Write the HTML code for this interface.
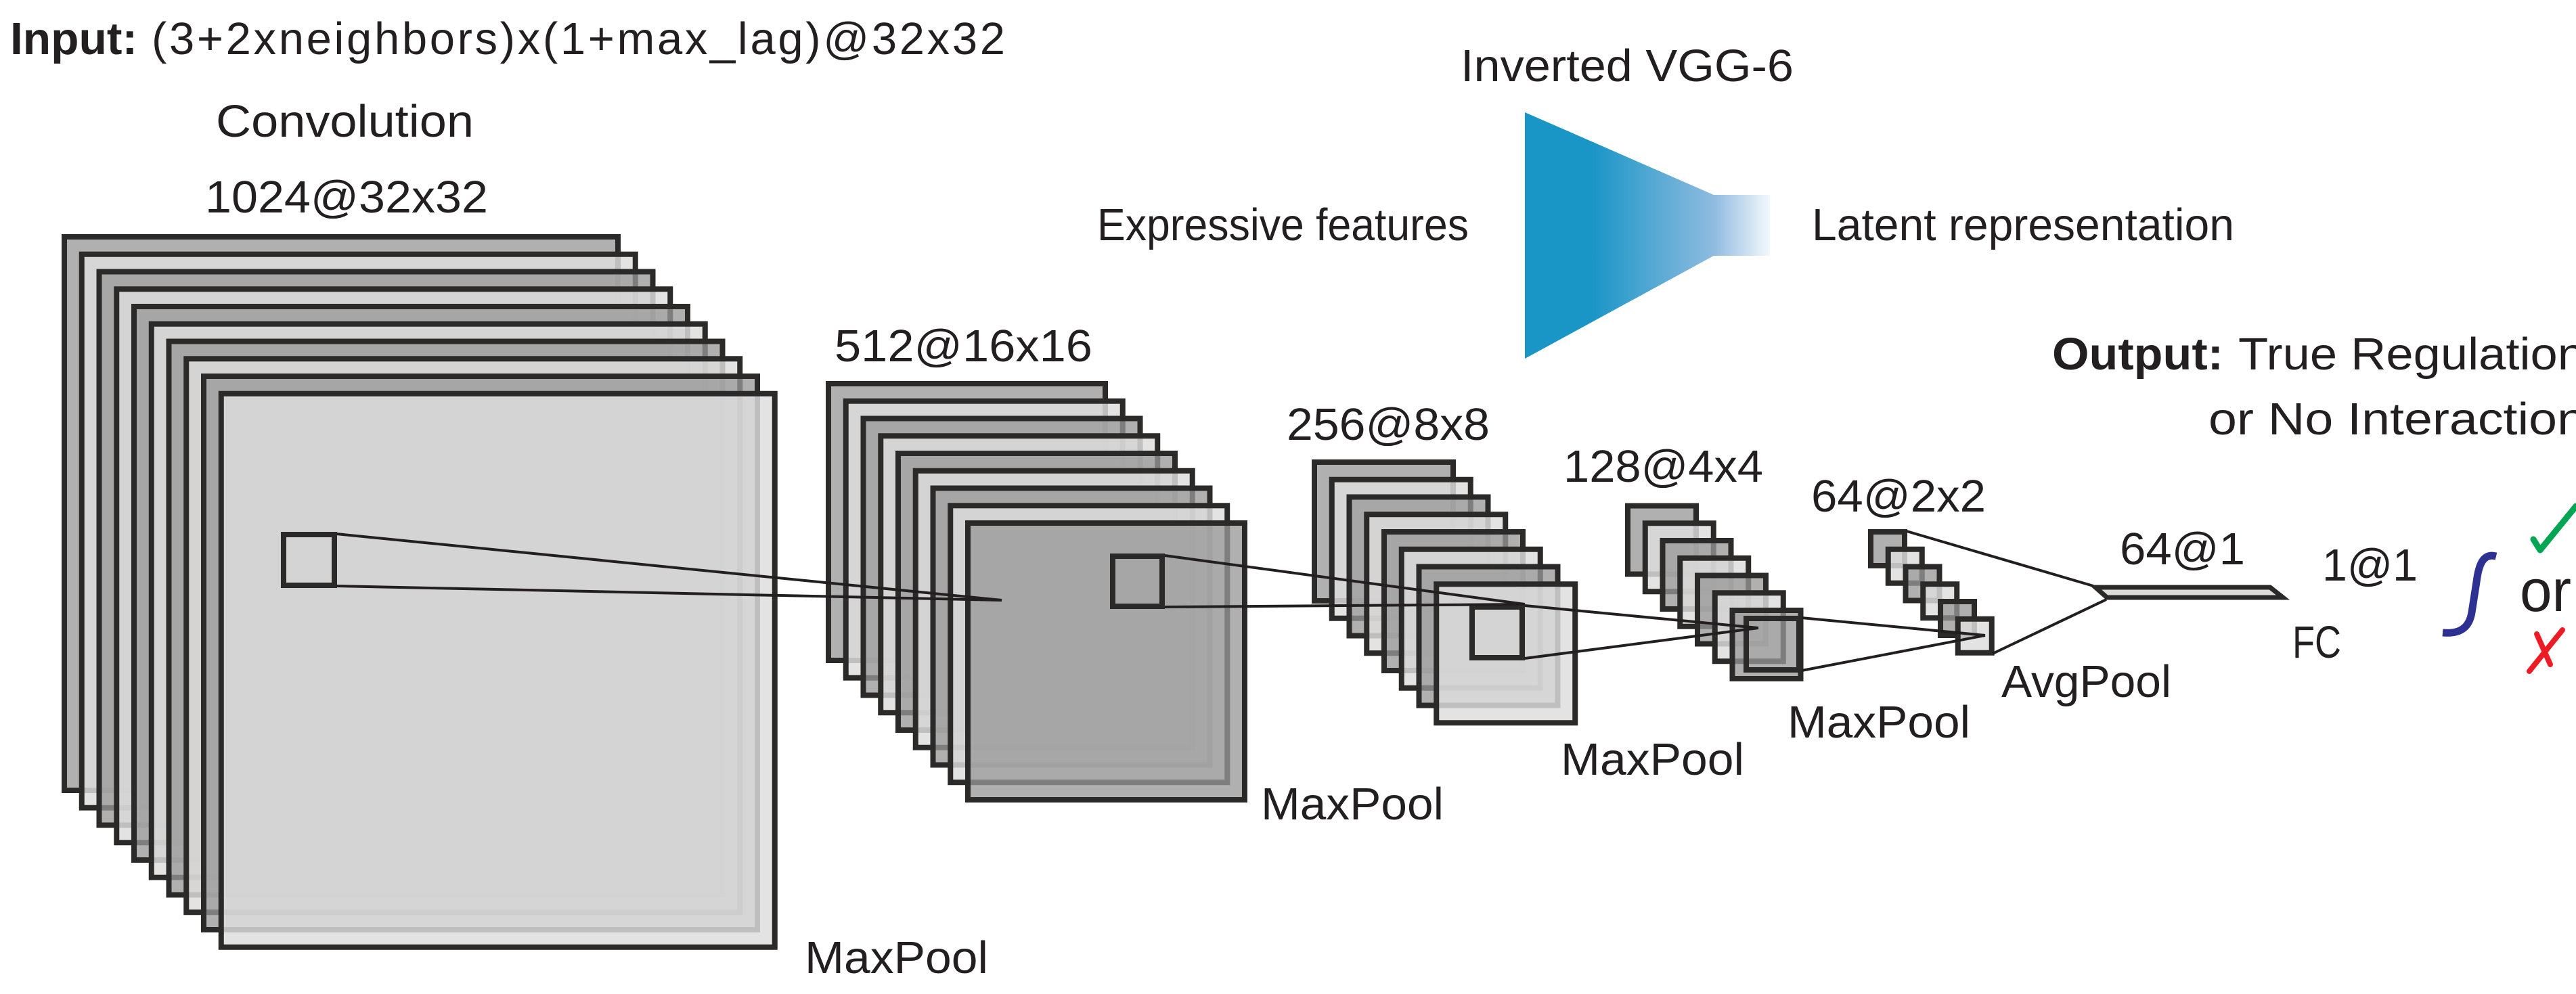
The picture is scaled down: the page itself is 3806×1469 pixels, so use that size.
<!DOCTYPE html>
<html>
<head>
<meta charset="utf-8">
<style>
html,body{margin:0;padding:0;background:#fff;}
svg{display:block;}
text{font-family:"Liberation Sans",Arial,sans-serif;fill:#231f20;}
</style>
</head>
<body>
<svg width="3806" height="1469" viewBox="0 0 3806 1469" xmlns="http://www.w3.org/2000/svg">
<defs>
<linearGradient id="vgg" x1="2253" y1="0" x2="2615" y2="0" gradientUnits="userSpaceOnUse">
<stop offset="0" stop-color="#1995c6"/>
<stop offset="0.27" stop-color="#1995c6"/>
<stop offset="0.77" stop-color="#8fbbe0"/>
<stop offset="1" stop-color="#f4f8fc"/>
</linearGradient>
</defs>
<rect x="0" y="0" width="3806" height="1469" fill="#fff"/>

<!-- Top texts -->
<text x="15" y="80" font-size="67" font-weight="bold" textLength="188" lengthAdjust="spacingAndGlyphs">Input:</text>
<text x="224" y="80" font-size="67" textLength="1261" lengthAdjust="spacing">(3+2xneighbors)x(1+max_lag)@32x32</text>
<text x="319" y="202" font-size="67" textLength="381" lengthAdjust="spacingAndGlyphs">Convolution</text>
<text x="303" y="314" font-size="67" textLength="418" lengthAdjust="spacingAndGlyphs">1024@32x32</text>

<text x="2158" y="120" font-size="67" textLength="492" lengthAdjust="spacingAndGlyphs">Inverted VGG-6</text>
<text x="1621" y="355" font-size="67" textLength="549" lengthAdjust="spacingAndGlyphs">Expressive features</text>
<text x="2677" y="355" font-size="67" textLength="624" lengthAdjust="spacingAndGlyphs">Latent representation</text>
<polygon points="2253,166 2532,288 2615,288 2615,378 2532,378 2253,530" fill="url(#vgg)"/>

<text x="3032" y="546" font-size="67" font-weight="bold" textLength="253" lengthAdjust="spacingAndGlyphs">Output:</text>
<text x="3307" y="546" font-size="67" textLength="512" lengthAdjust="spacingAndGlyphs">True Regulation</text>
<text x="3263" y="642" font-size="67" textLength="557" lengthAdjust="spacingAndGlyphs">or No Interaction</text>

<!-- Stack 1 -->
<g stroke="#2b2a29" stroke-width="8">
<rect x="95" y="350" width="818" height="818" fill="#989898" fill-opacity="0.77"/>
<rect x="120.75" y="375.75" width="818" height="818" fill="#dddddd" fill-opacity="0.83"/>
<rect x="146.5" y="401.5" width="818" height="818" fill="#989898" fill-opacity="0.77"/>
<rect x="172.25" y="427.25" width="818" height="818" fill="#dddddd" fill-opacity="0.83"/>
<rect x="198" y="453" width="818" height="818" fill="#989898" fill-opacity="0.77"/>
<rect x="223.75" y="478.75" width="818" height="818" fill="#dddddd" fill-opacity="0.83"/>
<rect x="249.5" y="504.5" width="818" height="818" fill="#989898" fill-opacity="0.77"/>
<rect x="275.25" y="530.25" width="818" height="818" fill="#dddddd" fill-opacity="0.83"/>
<rect x="301" y="556" width="818" height="818" fill="#989898" fill-opacity="0.77"/>
<rect x="326.75" y="581.75" width="818" height="818" fill="#dddddd" fill-opacity="0.83"/>
</g>
<rect x="419" y="790" width="75" height="75" fill="none" stroke="#2b2a29" stroke-width="8"/>

<!-- Stack 2 -->
<g stroke="#2b2a29" stroke-width="8">
<rect x="1224" y="567" width="409" height="409" fill="#989898" fill-opacity="0.77"/>
<rect x="1249.75" y="592.75" width="409" height="409" fill="#dddddd" fill-opacity="0.83"/>
<rect x="1275.5" y="618.5" width="409" height="409" fill="#989898" fill-opacity="0.77"/>
<rect x="1301.25" y="644.25" width="409" height="409" fill="#dddddd" fill-opacity="0.83"/>
<rect x="1327" y="670" width="409" height="409" fill="#989898" fill-opacity="0.77"/>
<rect x="1352.75" y="695.75" width="409" height="409" fill="#dddddd" fill-opacity="0.83"/>
<rect x="1378.5" y="721.5" width="409" height="409" fill="#989898" fill-opacity="0.77"/>
<rect x="1404.25" y="747.25" width="409" height="409" fill="#dddddd" fill-opacity="0.83"/>
<rect x="1430" y="773" width="409" height="409" fill="#989898" fill-opacity="0.77"/>
</g>
<rect x="1644" y="822" width="73" height="74" fill="none" stroke="#2b2a29" stroke-width="8"/>

<!-- Stack 3 -->
<g stroke="#2b2a29" stroke-width="8">
<rect x="1942" y="683" width="205" height="205" fill="#989898" fill-opacity="0.77"/>
<rect x="1967.75" y="708.75" width="205" height="205" fill="#dddddd" fill-opacity="0.83"/>
<rect x="1993.5" y="734.5" width="205" height="205" fill="#989898" fill-opacity="0.77"/>
<rect x="2019.25" y="760.25" width="205" height="205" fill="#dddddd" fill-opacity="0.83"/>
<rect x="2045" y="786" width="205" height="205" fill="#989898" fill-opacity="0.77"/>
<rect x="2070.75" y="811.75" width="205" height="205" fill="#dddddd" fill-opacity="0.83"/>
<rect x="2096.5" y="837.5" width="205" height="205" fill="#989898" fill-opacity="0.77"/>
<rect x="2122.25" y="863.25" width="205" height="205" fill="#dddddd" fill-opacity="0.83"/>
</g>
<rect x="2175" y="897" width="74" height="75" fill="none" stroke="#2b2a29" stroke-width="8"/>

<!-- Stack 4 -->
<g stroke="#2b2a29" stroke-width="8">
<rect x="2405" y="747.5" width="101" height="101" fill="#989898" fill-opacity="0.77"/>
<rect x="2430.75" y="773.25" width="101" height="101" fill="#dddddd" fill-opacity="0.83"/>
<rect x="2456.5" y="799" width="101" height="101" fill="#989898" fill-opacity="0.77"/>
<rect x="2482.25" y="824.75" width="101" height="101" fill="#dddddd" fill-opacity="0.83"/>
<rect x="2508" y="850.5" width="101" height="101" fill="#989898" fill-opacity="0.77"/>
<rect x="2533.75" y="876.25" width="101" height="101" fill="#dddddd" fill-opacity="0.83"/>
<rect x="2559.5" y="902" width="101" height="101" fill="#989898" fill-opacity="0.77"/>
</g>
<rect x="2580" y="914" width="78" height="76" fill="none" stroke="#2b2a29" stroke-width="8"/>

<!-- Stack 5 -->
<g stroke="#2b2a29" stroke-width="8">
<rect x="2764" y="786" width="50" height="50" fill="#989898" fill-opacity="0.77"/>
<rect x="2789.75" y="811.75" width="50" height="50" fill="#dddddd" fill-opacity="0.83"/>
<rect x="2815.5" y="837.5" width="50" height="50" fill="#989898" fill-opacity="0.77"/>
<rect x="2841.25" y="863.25" width="50" height="50" fill="#dddddd" fill-opacity="0.83"/>
<rect x="2867" y="889" width="50" height="50" fill="#989898" fill-opacity="0.77"/>
<rect x="2892.75" y="914.75" width="50" height="50" fill="#dddddd" fill-opacity="0.83"/>
</g>

<!-- FC bar -->
<polygon points="3096,868 3354,868 3373,883 3113,883" fill="#dcdcdc" stroke="#2b2a29" stroke-width="7" stroke-linejoin="miter"/>

<!-- Connector lines -->
<g stroke="#231f20" stroke-width="4" fill="none">
<line x1="497" y1="789" x2="1480" y2="887"/>
<line x1="497" y1="866" x2="1480" y2="887"/>
<line x1="1721" y1="821" x2="2253" y2="893"/>
<line x1="1721" y1="897" x2="2253" y2="893"/>
<line x1="2253" y1="895" x2="2598" y2="928"/>
<line x1="2253" y1="973" x2="2598" y2="928"/>
<line x1="2662" y1="913" x2="2933" y2="939"/>
<line x1="2662" y1="991" x2="2933" y2="939"/>
<line x1="2817" y1="785" x2="3093" y2="866"/>
<line x1="2944" y1="966" x2="3112" y2="886"/>
</g>

<!-- Labels -->
<text x="1233" y="534" font-size="67" textLength="381" lengthAdjust="spacingAndGlyphs">512@16x16</text>
<text x="1901" y="650" font-size="67" textLength="300" lengthAdjust="spacingAndGlyphs">256@8x8</text>
<text x="2310" y="712" font-size="67" textLength="295" lengthAdjust="spacingAndGlyphs">128@4x4</text>
<text x="2676" y="756" font-size="67" textLength="258" lengthAdjust="spacingAndGlyphs">64@2x2</text>
<text x="3132" y="834" font-size="67" textLength="185" lengthAdjust="spacingAndGlyphs">64@1</text>
<text x="3431" y="858" font-size="67" textLength="141" lengthAdjust="spacingAndGlyphs">1@1</text>
<text x="3387" y="972" font-size="67" textLength="72" lengthAdjust="spacingAndGlyphs">FC</text>
<text x="2957" y="1030" font-size="67" textLength="251" lengthAdjust="spacingAndGlyphs">AvgPool</text>
<text x="1189" y="1438" font-size="67" textLength="271" lengthAdjust="spacingAndGlyphs">MaxPool</text>
<text x="1863" y="1211" font-size="67" textLength="270" lengthAdjust="spacingAndGlyphs">MaxPool</text>
<text x="2306" y="1145" font-size="67" textLength="271" lengthAdjust="spacingAndGlyphs">MaxPool</text>
<text x="2641" y="1090" font-size="67" textLength="270" lengthAdjust="spacingAndGlyphs">MaxPool</text>

<!-- Sigmoid / integral -->
<path d="M 3688 822 C 3668 817, 3662 836, 3659 860 L 3652 905 C 3648 930, 3632 937, 3609 935" fill="none" stroke="#2e3192" stroke-width="11"/>
<!-- check -->
<path d="M 3743 797 L 3753 813 L 3806 748" fill="none" stroke="#00a651" stroke-width="9" stroke-linecap="round" stroke-linejoin="round"/>
<!-- or -->
<text x="3723" y="903" font-size="88" textLength="76" lengthAdjust="spacingAndGlyphs">or</text>
<!-- cross -->
<path d="M 3737 992 L 3786 931 M 3748 937 L 3768 982" fill="none" stroke="#ed1c24" stroke-width="8" stroke-linecap="round"/>
</svg>
</body>
</html>
